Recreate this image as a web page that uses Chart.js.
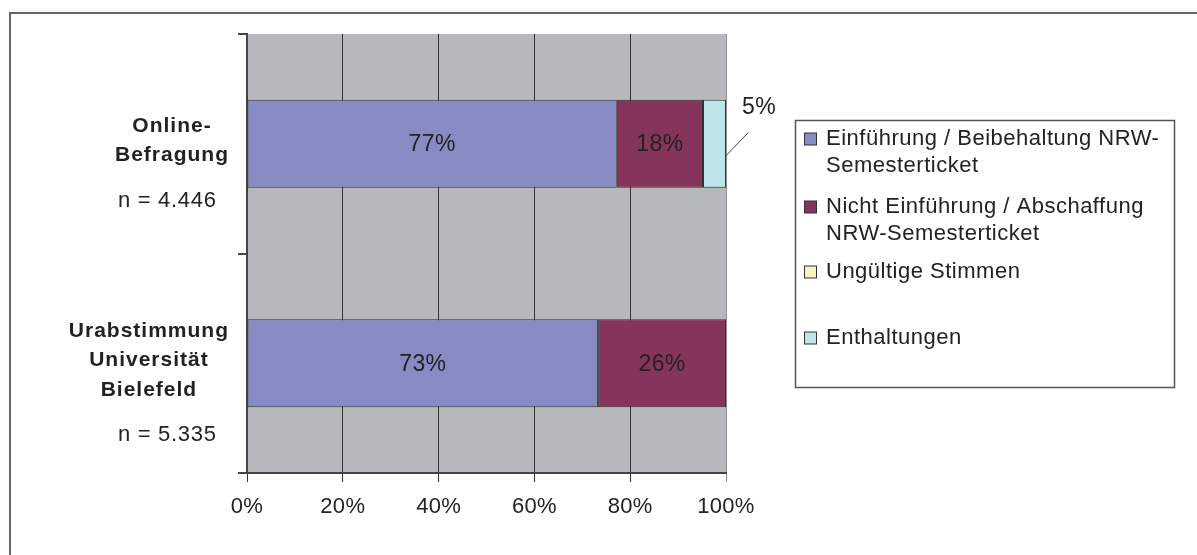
<!DOCTYPE html>
<html>
<head>
<meta charset="utf-8">
<script src="https://cdn.jsdelivr.net/npm/chart.js@4/dist/chart.umd.min.js"></script>
<style>
  html, body { margin: 0; padding: 0; background: #ffffff; }
  #wrap { width: 1197px; height: 555px; position: relative; }
</style>
</head>
<body>
<div id="wrap"><canvas id="c" width="1197" height="555"></canvas></div>
<script>
// ---- data ----
const categories = [["Online-", "Befragung"], ["Urabstimmung", "Universität", "Bielefeld"]];
const sampleSizes = ["n = 4.446", "n = 5.335"];
const seriesNames = [
  "Einführung / Beibehaltung NRW-Semesterticket",
  "Nicht Einführung / Abschaffung NRW-Semesterticket",
  "Ungültige Stimmen",
  "Enthaltungen"
];
const legendLines = [
  ["Einführung / Beibehaltung NRW-", "Semesterticket"],
  ["Nicht Einführung / Abschaffung", "NRW-Semesterticket"],
  ["Ungültige Stimmen"],
  ["Enthaltungen"]
];
const einfuehrung = [77.2, 73.3];
const nichtEinfuehrung = [18.0, 26.7];
const ungueltig = [0, 0];
const enthaltungen = [4.8, 0];
const labelsEinfuehrung = ["77%", "73%"];
const labelsNicht = ["18%", "26%"];
const labelsUngueltig = ["", ""];
const labelsEnthaltungen = ["5%", ""];
const xTicks = [0, 20, 40, 60, 80, 100];

const seriesColors = ["#888bc3", "#85355b", "#f4f3c0", "#bee5ea"];
const textColor = "#222222";
const FONT = "'Liberation Sans', Arial, sans-serif";

const datasets = [einfuehrung, nichtEinfuehrung, ungueltig, enthaltungen].map((d, i) => ({
  label: seriesNames[i],
  data: d,
  backgroundColor: seriesColors[i],
  borderColor: "#333333",
  borderWidth: 1,
  borderSkipped: false,
  categoryPercentage: 0.8,
  barPercentage: 0.5
}));
const valueLabels = [labelsEinfuehrung, labelsNicht, labelsUngueltig, labelsEnthaltungen];

const bgPlugin = {
  id: "bg",
  beforeDraw(chart) {
    const { ctx, chartArea: a } = chart;
    ctx.letterSpacing = "0.3px";
    ctx.save();
    ctx.fillStyle = "#b7b8bb";
    ctx.fillRect(a.left, a.top, a.right - a.left, a.bottom - a.top);
    ctx.restore();
  }
};

const textPlugin = {
  id: "texts",
  afterDraw(chart) {
    const { ctx } = chart;
    const yScale = chart.scales.y;
    ctx.save();
    // outer frame
    ctx.strokeStyle = "#666666";
    ctx.lineWidth = 2;
    ctx.beginPath();
    ctx.moveTo(10, 556);
    ctx.lineTo(10, 13);
    ctx.lineTo(1198, 13);
    ctx.stroke();

    // value labels
    ctx.fillStyle = textColor;
    ctx.letterSpacing = "0.4px";
    ctx.font = "23px " + FONT;
    ctx.textAlign = "center";
    ctx.textBaseline = "middle";
    chart.data.datasets.forEach((ds, di) => {
      const meta = chart.getDatasetMeta(di);
      meta.data.forEach((el, i) => {
        const txt = valueLabels[di][i];
        if (!txt) return;
        const w = Math.abs(el.x - el.base);
        if (w > 40) {
          ctx.fillText(txt, (el.x + el.base) / 2, el.y + 1);
        } else {
          // outside label with leader line
          const top = el.y - el.height / 2;
          ctx.strokeStyle = "#444444";
          ctx.lineWidth = 1;
          ctx.beginPath();
          ctx.moveTo(el.x, el.y + 12);
          ctx.lineTo(el.x + 22, el.y - 11);
          ctx.stroke();
          ctx.fillText(txt, el.x + 33, top + 8);
        }
      });
    });

    // category labels (centered block, right edge near axis)
    categories.forEach((lines, i) => {
      const cy = yScale.getPixelForValue(i);
      const lh = 29.5;
      const blockCenter = cy - 3;
      const first = blockCenter - (lines.length - 1) * lh / 2;
      ctx.font = "bold 21px " + FONT;
      ctx.letterSpacing = "1px";
      ctx.fillStyle = textColor;
      const maxW = Math.max(...lines.map(l => ctx.measureText(l).width));
      const cx = 229 - maxW / 2;
      ctx.textAlign = "center";
      lines.forEach((l, k) => ctx.fillText(l, cx, first + k * lh));
      const last = first + (lines.length - 1) * lh;
      ctx.font = "22px " + FONT;
      ctx.letterSpacing = "0.7px";
      ctx.textAlign = "left";
      ctx.fillText(sampleSizes[i], 118, last + 45);
    });

    // legend
    const lx = 795.5, ly = 120.5, lw = 379, lhgt = 267;
    ctx.strokeStyle = "#555555";
    ctx.lineWidth = 1.5;
    ctx.strokeRect(lx, ly, lw, lhgt);
    const itemY = [139, 207, 272, 338];
    ctx.textAlign = "left";
    ctx.letterSpacing = "0.5px";
    ctx.font = "22px " + FONT;
    legendLines.forEach((lines, i) => {
      ctx.fillStyle = seriesColors[i];
      ctx.fillRect(804.5, itemY[i] - 6, 12, 12);
      ctx.strokeStyle = "#333333";
      ctx.lineWidth = 1;
      ctx.strokeRect(804.5, itemY[i] - 6, 12, 12);
      ctx.fillStyle = textColor;
      lines.forEach((l, k) => ctx.fillText(l, 826, itemY[i] + k * 27));
    });
    ctx.restore();
  }
};

new Chart(document.getElementById("c"), {
  type: "bar",
  data: { labels: categories.map(c => c.join(" ")), datasets },
  options: {
    indexAxis: "y",
    responsive: false,
    animation: false,
    devicePixelRatio: 1,
    layout: { padding: { left: 0, right: 471, top: 34, bottom: 0 } },
    plugins: { legend: { display: false }, tooltip: { enabled: false } },
    scales: {
      x: {
        stacked: true,
        min: 0,
        max: 100,
        afterBuildTicks(scale) { scale.ticks = xTicks.map(v => ({ value: v })); },
        afterFit(scale) { scale.height = 82; },
        ticks: {
          callback: v => v + "%",
          color: textColor,
          font: { family: FONT, size: 22 },
          padding: 12,
          maxRotation: 0
        },
        grid: {
          color: ctx => (ctx.tick && ctx.tick.value === 100 ? "#8f9093" : "#333333"),
          lineWidth: 1, tickLength: 9, drawOnChartArea: true
        },
        border: { display: true, color: "#444444", width: 2 }
      },
      y: {
        stacked: true,
        offset: true,
        afterFit(scale) { scale.width = 247; },
        ticks: { display: false },
        grid: { drawOnChartArea: false, drawTicks: true, tickLength: 9, color: "#444444", lineWidth: 2, offset: true },
        border: { display: true, color: "#444444", width: 2 }
      }
    }
  },
  plugins: [bgPlugin, textPlugin]
});
</script>
</body>
</html>
